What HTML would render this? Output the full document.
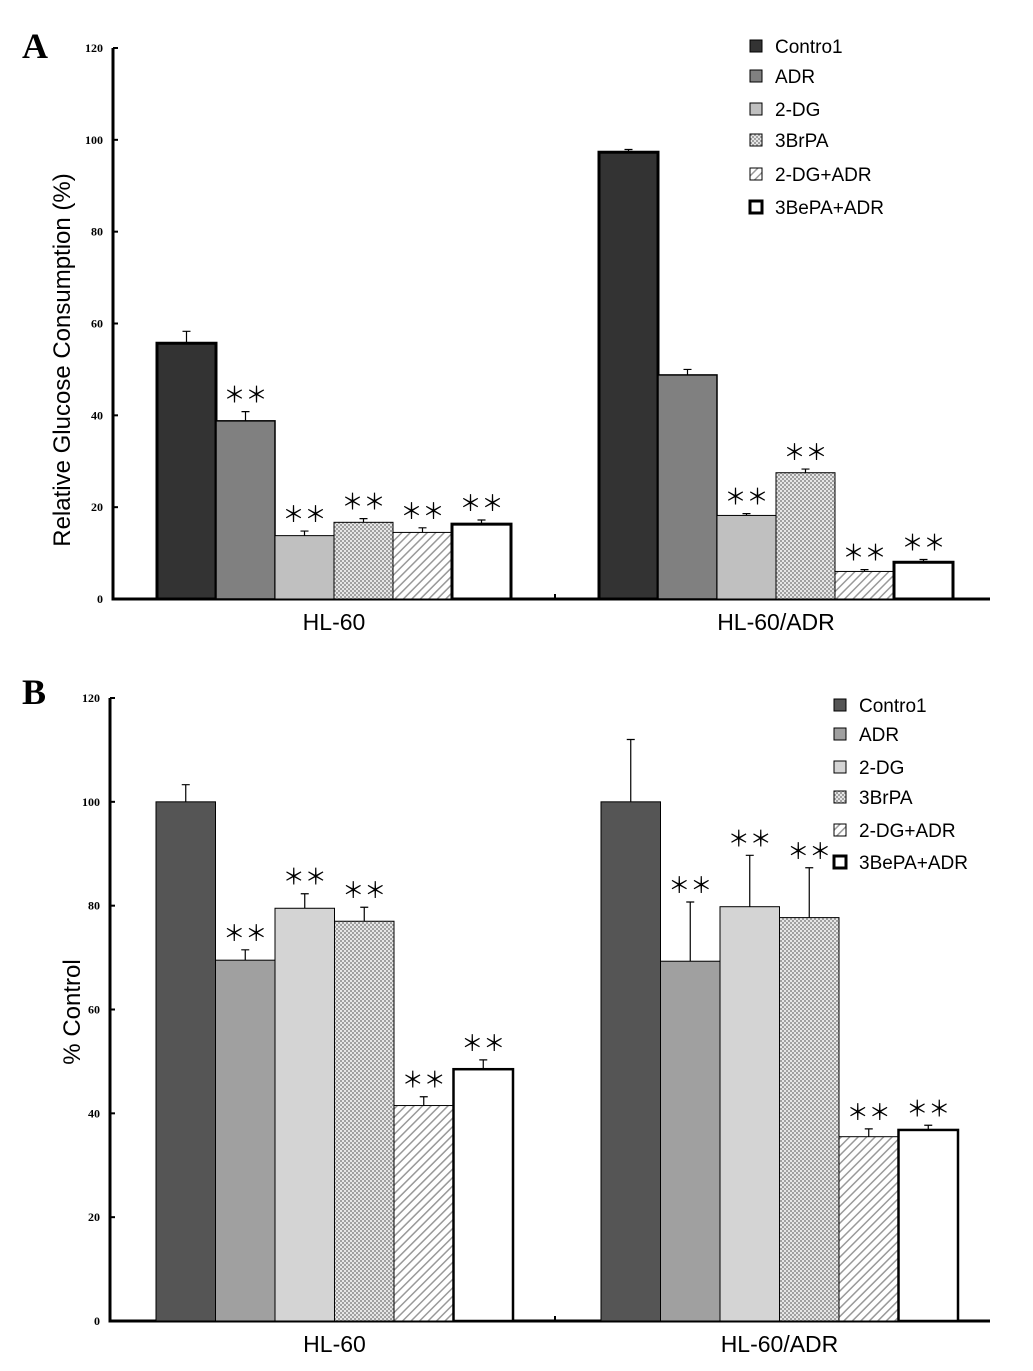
<!DOCTYPE html>
<html><head><meta charset="utf-8">
<style>
body{margin:0;background:#fff;}
svg{display:block;font-family:"Liberation Sans",sans-serif;}
</style></head>
<body>
<svg id="fig" width="1033" height="1371" viewBox="0 0 1033 1371">
<defs>
<pattern id="dots" width="4" height="4" patternUnits="userSpaceOnUse"><rect width="4" height="4" fill="#e6e6e6"/><rect width="2" height="2" fill="#a0a0a0"/><rect x="2" y="2" width="2" height="2" fill="#a0a0a0"/></pattern>
<pattern id="hatch" width="6" height="6" patternUnits="userSpaceOnUse" patternTransform="rotate(45)"><rect width="6" height="6" fill="#fff"/><rect width="1.5" height="6" fill="#999"/></pattern>
</defs>
<text x="22" y="58" font-family="Liberation Serif" font-weight="bold" font-size="36">A</text>
<text x="22" y="704" font-family="Liberation Serif" font-weight="bold" font-size="36">B</text>
<g id="chartA"></g>
<g id="chartB"></g>
</svg>
<script>
const seriesNames = ["Contro1","ADR","2-DG","3BrPA","2-DG+ADR","3BePA+ADR"];
const groups = ["HL-60","HL-60/ADR"];
const yTicks = [0,20,40,60,80,100,120];
const aHL60 = [55.7,38.8,13.8,16.7,14.5,16.3];
const aHL60Err = [2.6,2.0,1.0,0.8,1.0,0.9];
const aADR = [97.3,48.8,18.2,27.5,6.0,8.0];
const aADRErr = [0.6,1.2,0.4,0.8,0.4,0.6];
const aSig = [[0,1,1,1,1,1],[0,0,1,1,1,1]];
const bHL60 = [100,69.5,79.5,77,41.5,48.5];
const bHL60Err = [3.3,2.0,2.8,2.7,1.7,1.8];
const bADR = [100,69.3,79.8,77.7,35.5,36.8];
const bADRErr = [12,11.4,9.9,9.6,1.5,0.9];
const bSig = [[0,1,1,1,1,1],[0,1,1,1,1,1]];

const NS="http://www.w3.org/2000/svg";
function mk(parent,tag,attrs,text){const e=document.createElementNS(NS,tag);for(const k in attrs)e.setAttribute(k,attrs[k]);if(text!==undefined)e.textContent=text;parent.appendChild(e);return e;}

function draw(gid,cfg){
  const g=document.getElementById(gid);
  const y=v=>cfg.y0-(v/120)*(cfg.y0-cfg.y120);
  let ax=mk(g,'line',{x1:cfg.ax,y1:cfg.y120,x2:cfg.ax,y2:cfg.y0+1.5,stroke:'#000','stroke-width':3});
  
  let xa=mk(g,'line',{x1:cfg.ax,y1:cfg.y0,x2:990,y2:cfg.y0,stroke:'#000','stroke-width':3});
  
  mk(g,'line',{x1:555,y1:cfg.y0,x2:555,y2:cfg.y0-5,stroke:'#000','stroke-width':2});
  yTicks.forEach(t=>{
    mk(g,'line',{x1:cfg.ax,y1:y(t),x2:cfg.ax+5,y2:y(t),stroke:'#000','stroke-width':2});
    const tl=mk(g,'text',{x:cfg.ax-10,y:y(t)+4,'text-anchor':'end','font-family':'Liberation Serif','font-weight':'bold','font-size':12},t);
    
  });
  const yt=mk(g,'text',{transform:`translate(${cfg.ytx},${cfg.yty}) rotate(-90)`,'text-anchor':'middle','font-size':cfg.ytsize},cfg.ytitle);
  
  const vals=[cfg.v1,cfg.v2],errs=[cfg.e1,cfg.e2];
  groups.forEach((gn,gi)=>{
    const gx=cfg.gx[gi];
    vals[gi].forEach((v,i)=>{
      const x=gx+i*cfg.bw;
      const r=mk(g,'rect',{x:x,y:y(v),width:cfg.bw,height:cfg.y0-y(v),fill:cfg.fills[i],stroke:'#000','stroke-width':cfg.thick[i]});
      
      
      const ey=y(v+errs[gi][i]),cx=x+cfg.bw/2;
      const el=mk(g,'path',{d:`M${cx},${y(v)}V${ey}M${cx-4},${ey}H${cx+4}`,stroke:'#000','stroke-width':1.2,fill:'none'});
      
      if(cfg.sig[gi][i]){
        const s=mk(g,'text',{x:cx,y:ey-9,'text-anchor':'middle','font-size':22,'font-family':'Noto Sans CJK JP, sans-serif'},'＊＊');
        
      }
    });
    const gl=mk(g,'text',{x:gx+3*cfg.bw,y:cfg.y0+31,'text-anchor':'middle','font-size':23},gn);
    
  });
  seriesNames.forEach((n,i)=>{
    const ly=cfg.ly[i];
    const sq=mk(g,'rect',{x:cfg.lx,y:ly-6,width:12,height:12,fill:cfg.fills[i],stroke:'#000','stroke-width':i==5?3:1});
    
    const lt=mk(g,'text',{x:cfg.lx+25,y:ly+7,'font-size':19},n);
    
  });
}
draw('chartA',{ax:113,y0:599,y120:48,bw:59,gx:[157,599],v1:aHL60,e1:aHL60Err,v2:aADR,e2:aADRErr,sig:aSig,
  fills:['#333','#808080','#c0c0c0','url(#dots)','url(#hatch)','#fff'],thick:[3,1.5,1,1,1,3],
  ytitle:'Relative Glucose Consumption  (%)',ytsize:24,ytx:70,yty:360,lx:750,ly:[46,76,109,140,174,207]});
draw('chartB',{ax:110,y0:1321,y120:698,bw:59.5,gx:[156,601],v1:bHL60,e1:bHL60Err,v2:bADR,e2:bADRErr,sig:bSig,
  fills:['#555','#a0a0a0','#d4d4d4','url(#dots)','url(#hatch)','#fff'],thick:[1,1,1,1,1,2.5],
  ytitle:'% Control',ytsize:24,ytx:80,yty:1012,lx:834,ly:[705,734,767,797,830,862]});
</script>
</body></html>
